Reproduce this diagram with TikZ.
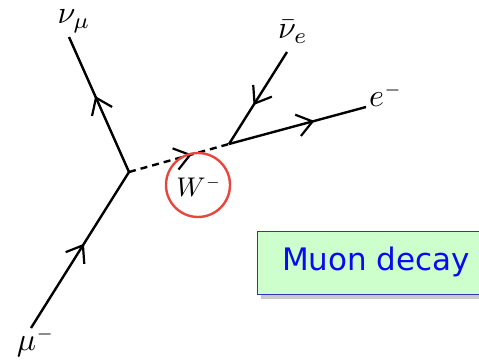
\documentclass[tikz,border=0pt]{standalone}
\usepackage{fontspec}
\usetikzlibrary{decorations.markings,shadows}
\newfontfamily\boxfont{DejaVu Sans}
\definecolor{wred}{HTML}{E8453C}
\definecolor{boxfill}{HTML}{CCFFCC}
\definecolor{boxdraw}{HTML}{3333BB}
\definecolor{boxtext}{HTML}{0A0AF0}
\tikzset{
  chevron/.style={decoration={markings, mark=at position #1 with {\draw[solid,line width=2.2pt,line join=miter] (-15pt,11pt) -- (0pt,0pt) -- (-15pt,-11pt);}}, postaction={decorate}},
  fermion/.style={line width=2.4pt, chevron=#1},
  boson/.style={line width=2.4pt, dash pattern=on 7pt off 5pt, chevron=#1},
  lbl/.style={inner sep=0pt},
}
\newcommand{\lab}[1]{\scalebox{3.2}{$#1$}}
\begin{document}
\begin{tikzpicture}[x=1pt,y=-1pt]
\useasboundingbox (0,0) rectangle (479,363);
\coordinate (mu) at (31,328);
\coordinate (A) at (129,172);
\coordinate (numu) at (69,37);
\coordinate (B) at (229,144);
\coordinate (nue) at (287,52);
\coordinate (e) at (366,107);
\draw[fermion=0.53] (mu) -- (A);
\draw[fermion=0.55] (A) -- (numu);
\draw[boson=0.61] (A) -- (B);
\draw[fermion=0.56] (nue) -- (B);
\draw[fermion=0.61] (B) -- (e);
\node[lbl] (lnumu) at (74,21) {\lab{\nu_\mu}};
\node[lbl] (lnue) at (293,32) {\lab{\bar\nu_e}};
\node[lbl] (le) at (386,95) {\lab{e^{\scriptscriptstyle -}}};
\node[lbl] (lmu) at (36,342) {\lab{\mu^{\scriptscriptstyle -}}};
\node[circle, draw=wred, line width=2.4pt, minimum size=64pt, inner sep=0pt] (wc) at (198,185) {};
\node[lbl] (lw) at (199,187) {\scalebox{2.7}{$W^{\scriptscriptstyle -}$}};
\node[draw=boxdraw, line width=1.4pt, fill=boxfill, drop shadow={shadow xshift=3pt, shadow yshift=-4pt, fill=gray!70, opacity=0.6},
  anchor=north west, minimum width=240pt, minimum height=63pt, inner sep=0pt] (box) at (257,231) {};
\node[font=\boxfont\fontsize{31}{33}\selectfont, text=boxtext, inner sep=0pt] (title) at (376,262) {Muon decay};
\end{tikzpicture}
\end{document}
